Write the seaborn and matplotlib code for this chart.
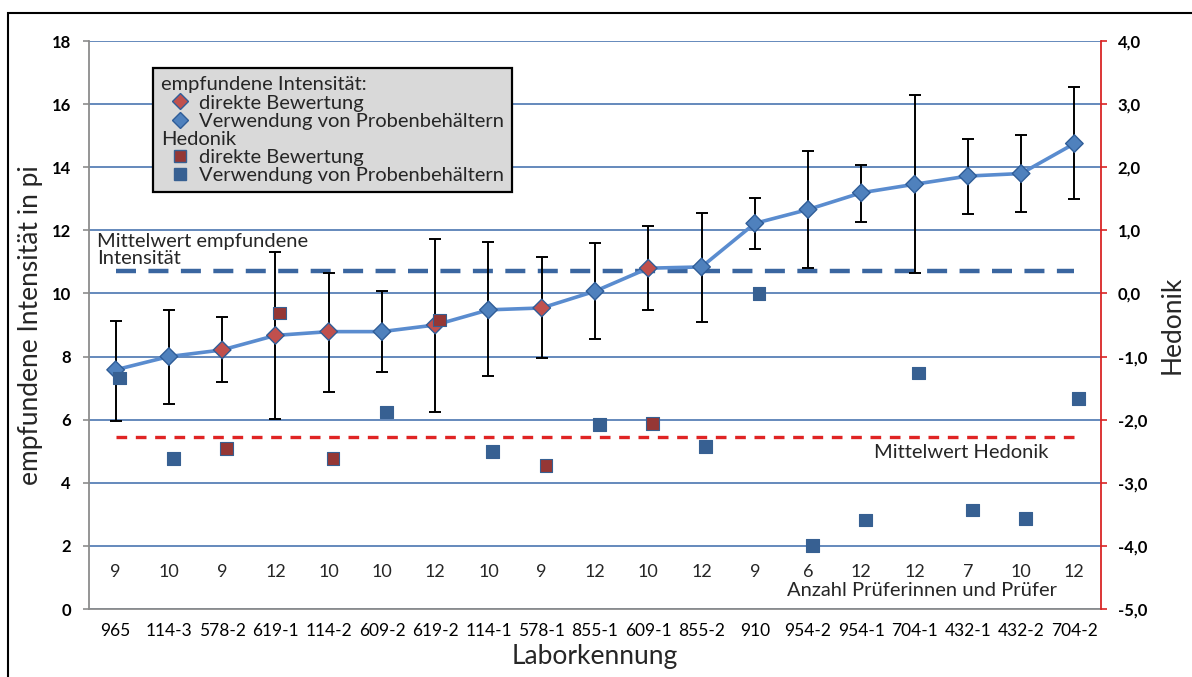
import matplotlib

matplotlib.use("Agg")

import matplotlib.pyplot as plt
import numpy as np
import pandas as pd
import seaborn as sns
from matplotlib.lines import Line2D
from matplotlib.patches import Rectangle
from matplotlib.ticker import FuncFormatter

labor = ["965", "114-3", "578-2", "619-1", "114-2", "609-2", "619-2", "114-1", "578-1",
         "855-1", "609-1", "855-2", "910", "954-2", "954-1", "704-1", "432-1", "432-2", "704-2"]
direkt = ["578-2", "619-1", "114-2", "619-2", "578-1", "609-1"]
intensitaet = [7.58, 8.0, 8.21, 8.67, 8.79, 8.79, 9.0, 9.48, 9.54, 10.07,
               10.8, 10.84, 12.22, 12.66, 13.19, 13.46, 13.72, 13.8, 14.75]
fehler_oben = [9.14, 9.49, 9.24, 11.31, 10.65, 10.08, 11.73, 11.63, 11.14, 11.59,
               12.13, 12.56, 13.03, 14.52, 14.08, 16.29, 14.89, 15.02, 16.53]
fehler_unten = [5.97, 6.5, 7.2, 6.01, 6.88, 7.5, 6.25, 7.37, 7.96, 8.57,
                9.46, 9.1, 11.42, 10.8, 12.26, 10.66, 12.53, 12.58, 12.98]
hedonik = [-1.34, -2.61, -2.46, -0.31, -2.61, -1.88, -0.42, -2.5, -2.73, -2.08,
           -2.06, -2.42, 0.0, -4.0, -3.59, -1.26, -3.43, -3.56, -1.67]
pruefer = [9, 10, 9, 12, 10, 10, 12, 10, 9, 12, 10, 12, 9, 6, 12, 12, 7, 10, 12]
mittel_intensitaet = 10.72
mittel_hedonik = -2.28

sns.set_theme(style="white")
plt.rcParams["font.family"] = ["Lato", "DejaVu Sans"]

df = pd.DataFrame({
    "pos": np.arange(len(labor)),
    "labor": labor,
    "intensitaet": intensitaet,
    "hedonik": hedonik,
})
df["methode"] = np.where(df["labor"].isin(direkt), "direkt", "behaelter")
df["mittel_i"] = mittel_intensitaet
df["mittel_h"] = mittel_hedonik

BLUE = "#4F81BD"
BLUE_EDGE = "#2F5D98"
RED = "#C0504D"
DARKRED = "#953735"
SQ_BLUE = "#376092"
GRID = "#4A76B0"

fig = plt.figure(figsize=(11.92, 6.77), dpi=100)
ax = fig.add_axes([89 / 1192, 1 - 609 / 677, (1101 - 89) / 1192, (609 - 41) / 677])
ax2 = ax.twinx()

ax.set_axisbelow(True)
ax.yaxis.grid(True, color=GRID, lw=1.2)

# mean line + main series with error bars (left axis)
sns.lineplot(data=df, x="pos", y="mittel_i", ax=ax, color="#3A66A0", lw=3.2,
             dashes=False, zorder=2).lines[-1].set_dashes([4.5, 2.8])
sns.lineplot(data=df, x="pos", y="intensitaet", ax=ax, color="#5A8CCF", lw=2.6, zorder=3)
err = np.vstack([df["intensitaet"] - np.array(fehler_unten), np.array(fehler_oben) - df["intensitaet"]])
ax.errorbar(df["pos"], df["intensitaet"], yerr=err, fmt="none", ecolor="black",
            elinewidth=1.4, capsize=4, capthick=1.4, zorder=4)
sns.scatterplot(data=df, x="pos", y="intensitaet", hue="methode", palette={"direkt": RED, "behaelter": BLUE},
                marker="D", s=80, edgecolor=BLUE_EDGE, linewidth=1.0, legend=False, ax=ax, zorder=5)

# hedonik on the right axis
ax2.plot(df["pos"], df["mittel_h"], color="#E02424", lw=2.4, dashes=[3.2, 2.6], zorder=2)
sns.scatterplot(x=df["pos"] + 0.08, y=df["hedonik"], hue=df["methode"],
                palette={"direkt": DARKRED, "behaelter": SQ_BLUE}, marker="s", s=85,
                edgecolor=SQ_BLUE, linewidth=0.8, legend=False, ax=ax2, zorder=5)

ax.set_xlim(-0.5, len(labor) - 0.5)
ax.set_ylim(0, 18)
ax.set_yticks(np.arange(0, 19, 2))
ax2.set_ylim(-5, 4)
ax2.set_yticks(np.arange(-5, 5, 1))
ax2.yaxis.set_major_formatter(FuncFormatter(lambda v, _: f"{v:.1f}".replace(".", ",")))

ax.set_xticks(df["pos"], labor)
ax.set_xticks(np.arange(-0.5, len(labor), 1), minor=True)
ax.tick_params(axis="x", which="major", length=0, pad=10, labelsize=12.5, colors="black")
ax.tick_params(axis="x", which="minor", length=4, width=1.2, color="#8C8C8C", direction="out")
ax.tick_params(axis="y", length=4, width=1.2, color="#8C8C8C", direction="out", pad=9,
               labelsize=12, labelcolor="black")
ax2.tick_params(axis="y", length=4, width=1.2, color="#D92525", direction="out", pad=8,
                labelsize=12, labelcolor="black")
for t in ax.get_yticklabels() + ax2.get_yticklabels():
    t.set_fontweight("bold")

for a in (ax, ax2):
    a.spines["top"].set_visible(False)
ax.spines["right"].set_visible(False)
ax2.spines["left"].set_visible(False)
ax2.spines["bottom"].set_visible(False)
ax.spines["left"].set_color("#8C8C8C")
ax.spines["bottom"].set_color("#8C8C8C")
ax.spines["left"].set_linewidth(1.3)
ax.spines["bottom"].set_linewidth(1.3)
ax2.spines["right"].set_color("#D92525")
ax2.spines["right"].set_linewidth(1.3)

ax.set_xlabel("Laborkennung", fontsize=19, labelpad=4)
ax.set_ylabel("empfundene Intensität in pi", fontsize=19, labelpad=6)
ax2.set_ylabel("Hedonik", fontsize=19, labelpad=9)

for p, n in zip(df["pos"], pruefer):
    ax.text(p, 0.065, str(n), transform=ax.get_xaxis_transform(), ha="center", va="center", fontsize=13)
ax.text(0.957, 0.032, "Anzahl Prüferinnen und Prüfer", transform=ax.transAxes,
        ha="right", va="center", fontsize=14.5)
ax.text(0.948, 0.275, "Mittelwert Hedonik", transform=ax.transAxes, ha="right", va="center", fontsize=14.5)
ax.text(0.008, 0.662, "Mittelwert empfundene\nIntensität", transform=ax.transAxes,
        ha="left", va="top", fontsize=14.5, linespacing=1.0)

handles = [
    Line2D([], [], linestyle="none"),
    Line2D([], [], linestyle="none", marker="D", markersize=8, markerfacecolor=RED, markeredgecolor=BLUE_EDGE),
    Line2D([], [], linestyle="none", marker="D", markersize=8, markerfacecolor=BLUE, markeredgecolor=BLUE_EDGE),
    Line2D([], [], linestyle="none"),
    Line2D([], [], linestyle="none", marker="s", markersize=9, markerfacecolor=DARKRED, markeredgecolor=SQ_BLUE),
    Line2D([], [], linestyle="none", marker="s", markersize=9, markerfacecolor=SQ_BLUE, markeredgecolor=SQ_BLUE),
]
labels = ["empfundene Intensität:", "direkte Bewertung", "Verwendung von Probenbehältern",
          "Hedonik", "direkte Bewertung", "Verwendung von Probenbehältern"]
leg = ax2.legend(handles, labels, loc="upper left", bbox_to_anchor=(0.063, 0.952), borderaxespad=0,
                 fontsize=14.5, handlelength=1.9, handletextpad=0.0, labelspacing=0.05, borderpad=0.4,
                 fancybox=False, framealpha=1, facecolor="#D9D9D9", edgecolor="black")
leg.get_frame().set_linewidth(1.6)
# header rows: drop the empty handle so the text starts flush left
rows = leg._legend_handle_box.get_children()[0].get_children()
for i in (0, 3):
    rows[i].get_children()[0].width = 0
    rows[i].sep = 0

fig.add_artist(Rectangle((8 / 1192, -0.2), 1.2, 1.2 - 13 / 677, transform=fig.transFigure,
                         fill=False, edgecolor="black", lw=1.5))

fig.savefig("out.png", dpi=100)
